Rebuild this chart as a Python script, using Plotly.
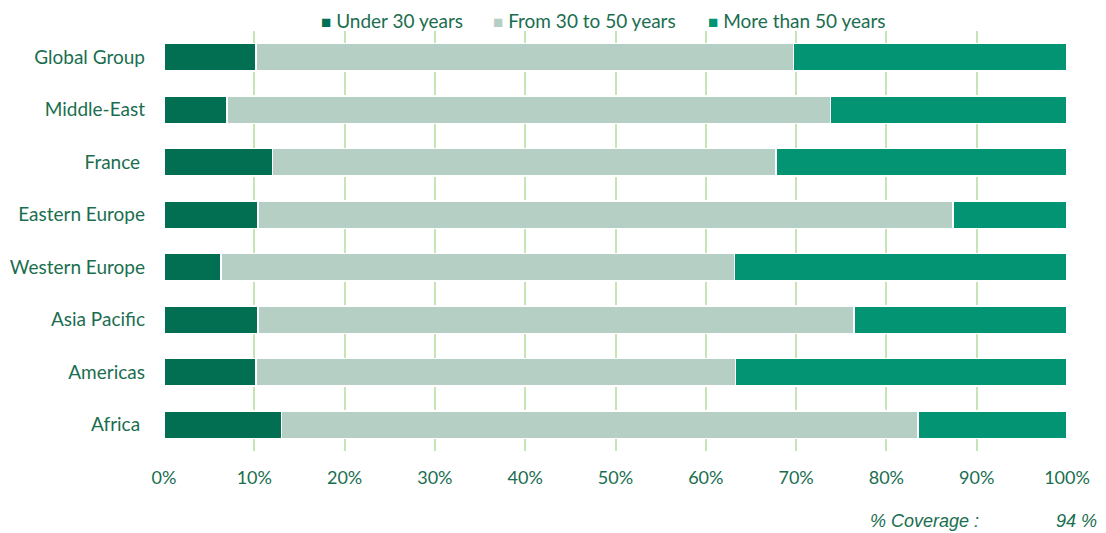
import plotly.graph_objects as go

regions = ["Global Group", "Middle-East", "France ", "Eastern Europe", "Western Europe",
           "Asia Pacific", "Americas", "Africa "]
under_30 = [10.2, 7.0, 12.0, 10.4, 6.3, 10.4, 10.2, 13.0]
from_30_to_50 = [59.5, 66.8, 55.8, 77.0, 56.9, 66.0, 53.1, 70.5]
over_50 = [30.3, 26.2, 32.2, 12.6, 36.8, 23.6, 36.7, 16.5]
x_ticks = [0, 10, 20, 30, 40, 50, 60, 70, 80, 90, 100]
x_tick_labels = [f"{v}%" for v in x_ticks]

series = [
    ("Under 30 years", under_30, "#026F52"),
    ("From 30 to 50 years", from_30_to_50, "#B5CFC4"),
    ("More than 50 years", over_50, "#039474"),
]

text_color = "#1A6E4F"
font_family = "Lato, Open Sans, sans-serif"
ML, MR, MT, MB = 164, 39, 31, 82
W, H = 1106, 533
plot_w = W - ML - MR
plot_h = H - MT - MB


def px_x(px):
    return (px - ML) / plot_w


def px_y(py):
    return (H - MB - py) / plot_h


fig = go.Figure()
for name, values, color in series:
    fig.add_trace(go.Bar(
        name=name, y=regions, x=values, orientation="h",
        marker=dict(color=color, line=dict(color="white", width=1.5)),
        hoverinfo="x+y+name", showlegend=False,
    ))

# Compact legend row across the top: coloured square + label
legend_x = [319, 491, 706]
annotations = []
for (name, _, color), lx in zip(series, legend_x):
    annotations.append(dict(
        text=f"<span style='color:{color};font-size:17px'>■</span> {name}",
        x=px_x(lx), y=px_y(20), xref="paper", yref="paper",
        xanchor="left", yanchor="middle", showarrow=False,
        font=dict(family=font_family, size=19, color=text_color),
    ))

# Coverage note under the axis
annotations += [
    dict(text="<i>% Coverage :</i>", x=px_x(868), y=px_y(521),
         xref="paper", yref="paper", xanchor="left", yanchor="middle", showarrow=False,
         font=dict(family="Liberation Sans, Arial", size=18, color=text_color)),
    dict(text="<i>94 %</i>", x=px_x(1099), y=px_y(521),
         xref="paper", yref="paper", xanchor="right", yanchor="middle", showarrow=False,
         font=dict(family="Liberation Sans, Arial", size=18, color=text_color)),
]

fig.update_layout(
    barmode="stack",
    bargap=0.48,
    width=W, height=H,
    margin=dict(l=ML, r=MR, t=MT, b=MB, autoexpand=False),
    paper_bgcolor="white", plot_bgcolor="white",
    font=dict(family=font_family, size=19, color=text_color),
    showlegend=False,
    xaxis=dict(range=[0, 100], tickvals=x_ticks, ticktext=x_tick_labels,
               showgrid=True, gridcolor="#C5E5B5", gridwidth=2, zeroline=False,
               showline=False, ticks="", ticklabelstandoff=14,
               tickfont=dict(size=18, color=text_color)),
    yaxis=dict(autorange="reversed", showgrid=False, zeroline=False, ticks="",
               ticklabelstandoff=18, tickfont=dict(size=19, color=text_color)),
    annotations=annotations,
)

fig.write_html("out.html")
